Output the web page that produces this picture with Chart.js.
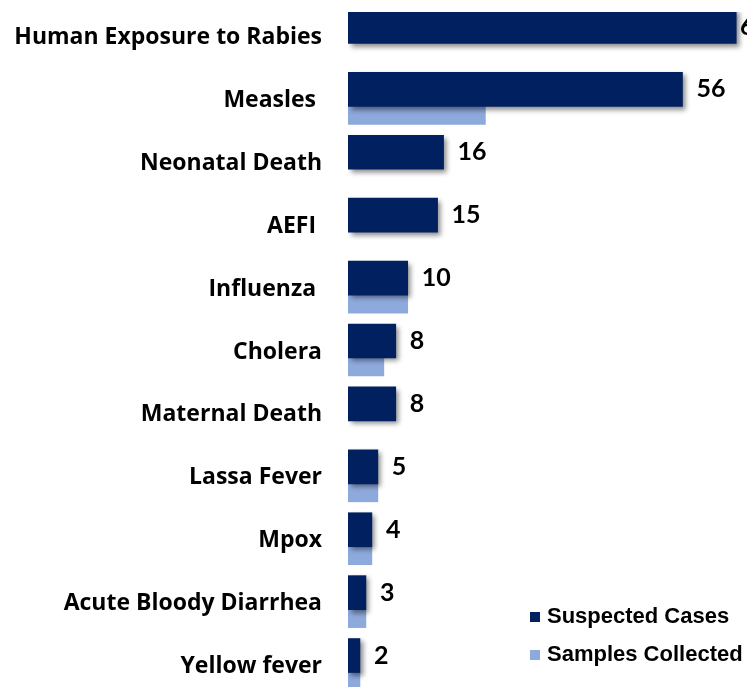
<!DOCTYPE html>
<html>
<head>
<meta charset="utf-8">
<script src="https://cdn.jsdelivr.net/npm/chart.js@4"></script>
<style>
  html, body { margin: 0; padding: 0; background: #fff; overflow: hidden; }
  #wrap { position: relative; width: 747px; height: 704px; }
</style>
</head>
<body>
<div id="wrap"><canvas id="myChart"></canvas></div>
<script>
const categories = ['Human Exposure to Rabies', 'Measles ', 'Neonatal Death', 'AEFI ', 'Influenza ',
    'Cholera', 'Maternal Death', 'Lassa Fever', 'Mpox', 'Acute Bloody Diarrhea', 'Yellow fever'];
const suspectedCases = [65, 56, 16, 15, 10, 8, 8, 5, 4, 3, 2];
// null = no samples bar shown for that disease
const samplesCollected = [null, 23, null, null, 10, 6, null, 5, 4, 3, 2];

const navy = '#002060';
const lightBlue = '#8EA9DB';

// drop shadow under the suspected cases bars
const barShadow = {
    id: 'barShadow',
    beforeDatasetDraw(chart, args) {
        if (args.index !== 0) return;
        const ctx = chart.ctx;
        ctx.save();
        ctx.shadowColor = 'rgba(0, 0, 0, 0.45)';
        ctx.shadowBlur = 5;
        ctx.shadowOffsetX = 3;
        ctx.shadowOffsetY = 3;
    },
    afterDatasetDraw(chart, args) {
        if (args.index !== 0) return;
        chart.ctx.restore();
    }
};

// value labels at the end of the suspected cases bars
const valueLabels = {
    id: 'valueLabels',
    afterDatasetsDraw(chart) {
        const ctx = chart.ctx;
        const meta = chart.getDatasetMeta(0);
        ctx.save();
        ctx.font = 'bold 25px Lato, "Open Sans", sans-serif';
        ctx.fillStyle = '#000';
        ctx.textAlign = 'left';
        ctx.textBaseline = 'middle';
        meta.data.forEach((bar, i) => {
            const x = Math.min(bar.x + 14, chart.chartArea.right - 7);
            ctx.fillText(suspectedCases[i], x, bar.y);
        });
        ctx.restore();
    }
};

// legend in the lower right corner
const legendBox = {
    id: 'legendBox',
    afterDraw(chart) {
        const ctx = chart.ctx;
        ctx.save();
        ctx.font = 'bold 22px "Liberation Sans", Arial, sans-serif';
        ctx.textBaseline = 'middle';
        ctx.textAlign = 'left';
        chart.data.datasets.forEach((ds, i) => {
            const y = 617 + i * 38;
            ctx.fillStyle = ds.backgroundColor;
            ctx.fillRect(530, y - 5, 10, 10);
            ctx.fillStyle = '#000';
            ctx.fillText(ds.label, 547, y);
        });
        ctx.restore();
    }
};

let ctx = document.getElementById('myChart').getContext('2d');

let myChart = new Chart(ctx, {
    type: 'bar',
    data: {
        labels: categories,
        datasets: [{
            label: 'Suspected Cases',
            data: suspectedCases,
            backgroundColor: navy,
            barThickness: 34
        }, {
            label: 'Samples Collected',
            data: samplesCollected,
            backgroundColor: lightBlue,
            barThickness: 18
        }]
    },
    options: {
        indexAxis: 'y',
        responsive: true,
        maintainAspectRatio: false,
        animation: false,
        layout: {
            padding: { top: 12, left: 0, right: 0, bottom: 0 }
        },
        scales: {
            x: {
                display: false,
                min: 0,
                max: 66.8
            },
            y: {
                grid: { display: false },
                border: { display: false },
                afterFit(scale) {
                    scale.width = 348;
                    scale.paddingTop = 0;
                    scale.paddingBottom = 0;
                },
                ticks: {
                    padding: 18,
                    labelOffset: -6,
                    color: '#000',
                    font: { family: '"Open Sans", "Noto Sans", sans-serif', weight: 'bold', size: 23 }
                }
            }
        },
        plugins: {
            legend: { display: false },
            tooltip: { enabled: false }
        }
    },
    plugins: [barShadow, valueLabels, legendBox]
});
</script>
</body>
</html>
